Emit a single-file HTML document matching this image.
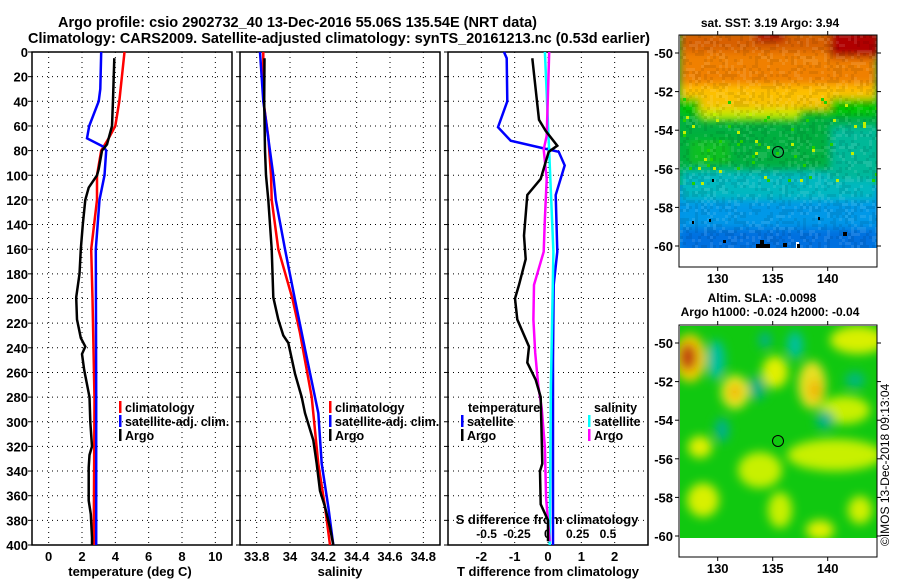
<!DOCTYPE html>
<html><head><meta charset="utf-8"><style>
body{margin:0;background:#fff}
svg text{font-family:"Liberation Sans",sans-serif;font-weight:bold;fill:#000}
</style></head><body>
<svg id="c" width="900" height="580" xmlns="http://www.w3.org/2000/svg">
<defs>
<filter id="b1" x="-20%" y="-20%" width="140%" height="140%"><feGaussianBlur stdDeviation="4"/></filter>
<filter id="b2" x="-50%" y="-50%" width="200%" height="200%"><feGaussianBlur stdDeviation="5"/></filter>
<clipPath id="m1c"><rect x="680" y="35" width="197" height="213"/></clipPath>
<clipPath id="m2c"><rect x="680" y="326" width="197" height="212"/></clipPath>
</defs>
<text x="58" y="27" font-size="15" textLength="479" lengthAdjust="spacingAndGlyphs">Argo profile: csio 2902732_40 13-Dec-2016 55.06S 135.54E (NRT data)</text>
<text x="28" y="43" font-size="15" textLength="622" lengthAdjust="spacingAndGlyphs">Climatology: CARS2009. Satellite-adjusted climatology: synTS_20161213.nc (0.53d earlier)</text>

<!-- SST map -->
<g clip-path="url(#m1c)">
<rect x="680" y="35" width="197" height="213" fill="#0090e8"/>
<rect x="680" y="35" width="197" height="150" fill="#00b040"/>
<g filter="url(#b1)">
<rect x="680" y="170" width="197" height="40" fill="#00b8c0"/>
<rect x="680" y="200" width="197" height="30" fill="#0098e8"/>
<rect x="680" y="228" width="197" height="25" fill="#0070e0"/>
<rect x="830" y="125" width="50" height="55" fill="#00b898"/>
<rect x="680" y="90" width="197" height="25" fill="#00c800"/>
<rect x="700" y="95" width="100" height="25" fill="#c8e800"/>
<rect x="680" y="80" width="197" height="18" fill="#ffc000"/>
<rect x="700" y="95" width="130" height="14" fill="#f8c000"/>
<rect x="680" y="30" width="197" height="55" fill="#f08000"/>
<rect x="680" y="30" width="197" height="22" fill="#d86000"/>
<rect x="830" y="30" width="50" height="28" fill="#b00000"/>
<rect x="755" y="30" width="30" height="12" fill="#b00000"/>
<rect x="690" y="140" width="40" height="25" fill="#10c020"/>
</g>
<g id="noise"></g>
<rect x="796" y="242" width="3" height="6" fill="#fff"/>
<g fill="#000"><rect x="756" y="244" width="14" height="4"/><rect x="760" y="240" width="4" height="4"/><rect x="783" y="243" width="4" height="4"/><rect x="797" y="244" width="3" height="4"/><rect x="843" y="232" width="4" height="4"/><rect x="692" y="221" width="2" height="3"/><rect x="709" y="219" width="2" height="3"/><rect x="818" y="217" width="2" height="3"/><rect x="712" y="179" width="2" height="3"/><rect x="723" y="240" width="3" height="3"/></g>
</g>
<circle cx="778" cy="152" r="5.5" fill="none" stroke="#000"/>
<text x="770" y="27" font-size="12" text-anchor="middle">sat. SST: 3.19 Argo: 3.94</text>

<!-- SLA map -->
<g clip-path="url(#m2c)">
<rect x="680" y="326" width="197" height="212" fill="#10c810"/>
<g filter="url(#b2)">
<ellipse cx="690" cy="358" rx="16" ry="24" fill="#f0d000"/>
<ellipse cx="688" cy="357" rx="9" ry="14" fill="#c04010"/>
<ellipse cx="716" cy="360" rx="9" ry="20" fill="#00c0a0"/>
<ellipse cx="757" cy="388" rx="9" ry="12" fill="#00b080"/>
<ellipse cx="795" cy="345" rx="8" ry="14" fill="#00c0a0"/>
<ellipse cx="765" cy="340" rx="6" ry="8" fill="#00b090"/>
<ellipse cx="735" cy="392" rx="14" ry="17" fill="#e8e820"/>
<ellipse cx="735" cy="392" rx="6" ry="8" fill="#f0b000"/>
<ellipse cx="775" cy="372" rx="13" ry="16" fill="#e0f000"/>
<ellipse cx="812" cy="385" rx="14" ry="24" fill="#e8e020"/>
<ellipse cx="815" cy="390" rx="6" ry="10" fill="#f0b000"/>
<ellipse cx="858" cy="340" rx="28" ry="14" fill="#d8f000"/>
<ellipse cx="845" cy="410" rx="25" ry="14" fill="#c8f000"/>
<ellipse cx="700" cy="447" rx="12" ry="11" fill="#e0f000"/>
<ellipse cx="835" cy="455" rx="48" ry="16" fill="#c8f000"/>
<ellipse cx="760" cy="470" rx="22" ry="18" fill="#c8f000"/>
<ellipse cx="703" cy="500" rx="16" ry="17" fill="#d8f000"/>
<ellipse cx="780" cy="510" rx="12" ry="18" fill="#c8f000"/>
<ellipse cx="820" cy="530" rx="14" ry="10" fill="#e0f000"/>
<ellipse cx="860" cy="510" rx="12" ry="14" fill="#d0f000"/>
<ellipse cx="722" cy="430" rx="7" ry="12" fill="#00b090"/>
<ellipse cx="825" cy="420" rx="9" ry="9" fill="#00b090"/>
<ellipse cx="855" cy="380" rx="10" ry="8" fill="#00b880"/>
</g>
</g>
<circle cx="778" cy="441" r="5.5" fill="none" stroke="#000"/>
<text x="762" y="302" font-size="12" text-anchor="middle">Altim. SLA: -0.0098</text>
<text x="770" y="316" font-size="12" text-anchor="middle">Argo h1000: -0.024 h2000: -0.04</text>
<text transform="translate(889,546) rotate(-90)" font-size="12" style="font-weight:normal">©IMOS 13-Dec-2018 09:13:04</text>
<g id="axes"></g>
</svg>
<script>
// ---- data (depth in m) ----
const tClimD=[0,40,60,70,80,100,120,160,200,282,400];
const tClimV=[4.55,4.24,4.0,3.6,3.15,2.9,2.9,2.55,2.63,2.75,2.7];
const tSatD=[0,30,40,60,70,77,80,100,120,160,280,400];
const tSatV=[3.15,3.1,3.0,2.43,2.3,3.3,3.45,3.35,3.05,2.83,2.85,2.85];
const tArgoD=[5,39,60,75,80,95,100,110,120,140,160,180,199,217,232,239,245,258,280,300,320,327,337,364,375,394,400];
const tArgoV=[3.94,3.86,3.8,3.5,3.2,3.0,2.9,2.4,2.2,2.05,1.93,1.85,1.65,1.7,1.93,2.2,2.0,2.13,2.45,2.5,2.6,2.45,2.4,2.4,2.53,2.6,2.6];
const sClimD=[0,39,69,100,120,160,179,201,228,280,334,369,400];
const sClimV=[33.84,33.84,33.87,33.886,33.89,33.93,33.97,34.016,34.06,34.13,34.17,34.21,34.24];
const sSatD=[0,40,100,120,160,201,241,280,293,334,369,400];
const sSatV=[33.82,33.84,33.9,33.915,33.97,34.03,34.09,34.15,34.17,34.19,34.23,34.26];
const sArgoD=[5,40,80,100,120,160,199,217,230,236,261,280,293,315,334,356,369,386,400];
const sArgoV=[33.847,33.845,33.85,33.856,33.87,33.89,33.9,33.93,33.96,33.99,34.03,34.07,34.09,34.14,34.16,34.18,34.21,34.24,34.26];
const dtSatD=[0,5,40,61,72,79,81,92,116,162,189,250,400];
const dtSatV=[-1.32,-1.24,-1.22,-1.5,-1.12,0,0.32,0.5,0.23,0.28,0.17,0.15,0.15];
const dtArgoD=[5,55,64,76,81,103,116,149,168,189,200,217,239,252,266,280,334,340,367,380,397];
const dtArgoV=[-0.47,-0.27,-0.07,0.28,0.02,-0.22,-0.62,-0.72,-0.67,-0.87,-0.99,-0.92,-0.57,-0.62,-0.37,-0.22,-0.17,-0.24,-0.22,0,0];
const dsSatD=[0,81,162,271,400];
const dsSatV=[-0.02,0.016,0.05,0.03,0.02];
const dsArgoD=[0,68,79,103,135,162,189,217,244,271,289,321,362,397];
const dsArgoV=[0.016,-0.005,-0.03,-0.005,-0.02,-0.03,-0.11,-0.115,-0.1,-0.074,-0.046,-0.02,-0.01,0.02];
const depthTicks=[0,20,40,60,80,100,120,140,160,180,200,220,240,260,280,300,320,340,360,380,400];
const tTicks=[0,2,4,6,8,10];
const sTicks=[33.8,34,34.2,34.4,34.6,34.8];
const dtTicks=[-2,-1,0,1,2];
const dsTicks=[-0.5,-0.25,0,0.25,0.5];
const latTicks=[-50,-52,-54,-56,-58,-60];
const lonTicks=[130,135,140];

const NS="http://www.w3.org/2000/svg";
const G=document.getElementById('axes');
function el(t,a,p){const e=document.createElementNS(NS,t);for(const k in a)e.setAttribute(k,a[k]);(p||G).appendChild(e);return e;}

// pixel texture for SST map
(function(){
  const N=document.getElementById('noise');let s=12345;
  const r=()=>{s=(s*1103515245+12345)&0x7fffffff;return s/0x7fffffff;};
  for(let y=35;y<248;y+=3)for(let x=680;x<877;x+=3){
    const v=r();
    if(v<0.25)el('rect',{x:x,y:y,width:3,height:3,fill:'#000','fill-opacity':0.08},N);
    else if(v<0.45)el('rect',{x:x,y:y,width:3,height:3,fill:'#fff','fill-opacity':0.1},N);
  }
  for(let i=0;i<60;i++){const x=680+Math.floor(r()*66)*3,y=95+Math.floor(r()*30)*3;
    el('rect',{x:x,y:y,width:3,height:3,fill:r()<0.5?'#c0f000':'#20d000'},N);}
})();

const Y0=52,Y1=545;
const yD=d=>Y0+d/400*(Y1-Y0);
const P=[{x0:32,x1:232,lo:-1,hi:11},{x0:240,x1:440,lo:33.7,hi:34.9},{x0:448,x1:648,lo:-3,hi:3}];
const sx=(p,v)=>p.x0+(v-p.lo)/(p.hi-p.lo)*(p.x1-p.x0);
const dsx=v=>547.3+v*121.3;

function grid(pi,ticks,lblFmt,name){
  const p=P[pi];
  const g=el('g',{});
  
  
  depthTicks.forEach(d=>{
    el('line',{x1:p.x0,x2:p.x1,y1:yD(d),y2:yD(d),stroke:'#000','stroke-dasharray':'1 4','stroke-width':1},g);
    el('line',{x1:p.x0-4,x2:p.x0,y1:yD(d),y2:yD(d),stroke:'#000'},g);
  });
  ticks.forEach(v=>{
    const x=sx(p,v);
    el('line',{x1:x,x2:x,y1:Y0,y2:Y1,stroke:'#000','stroke-dasharray':'1 4','stroke-width':1},g);
    const t=el('text',{x:x,y:561,'font-size':13,'text-anchor':'middle'},g);t.textContent=lblFmt(v);
  });
  el('rect',{x:p.x0,y:Y0,width:p.x1-p.x0,height:Y1-Y0,fill:'none',stroke:'#000','stroke-width':1.5},g);
}
grid(0,tTicks,v=>String(v),'temperature');
grid(1,sTicks,v=>String(v),'salinity');
grid(2,dtTicks,v=>String(v),'t-difference');
depthTicks.forEach(d=>{const t=el('text',{x:28,y:yD(d)+5,'font-size':13,'text-anchor':'end'});


t.textContent=d;});
dsTicks.forEach(v=>{const t=el('text',{x:dsx(v),y:538,'font-size':12,'text-anchor':'middle'});


t.textContent=String(v);});
[['temperature (deg C)',130,'temperature-axis-title'],['salinity',340,'salinity-axis-title'],['T difference from climatology',548,'t-diff-axis-title']].forEach(a=>{
 const t=el('text',{x:a[1],y:576,'font-size':13,'text-anchor':'middle'});
 
 
 t.textContent=a[0];});
{const t=el('text',{x:547,y:524,'font-size':13,'text-anchor':'middle'});


t.textContent='S difference from climatology';}

function line(D,V,xf,col,name){
  const pts=D.map((d,i)=>xf(V[i]).toFixed(1)+','+yD(d).toFixed(1)).join(' ');
  const e=el('polyline',{points:pts,fill:'none',stroke:col,'stroke-width':2.5});
  
  
}
line(tClimD,tClimV,v=>sx(P[0],v),'#f00','temp-climatology-line');
line(tSatD,tSatV,v=>sx(P[0],v),'#00f','temp-satellite-line');
line(tArgoD,tArgoV,v=>sx(P[0],v),'#000','temp-argo-line');
line(sClimD,sClimV,v=>sx(P[1],v),'#f00','sal-climatology-line');
line(sSatD,sSatV,v=>sx(P[1],v),'#00f','sal-satellite-line');
line(sArgoD,sArgoV,v=>sx(P[1],v),'#000','sal-argo-line');
line(dtSatD,dtSatV,v=>sx(P[2],v),'#00f','tdiff-satellite-line');
line(dsSatD,dsSatV,dsx,'#0ff','sdiff-satellite-line');
line(dsArgoD,dsArgoV,dsx,'#f0f','sdiff-argo-line');
line(dtArgoD,dtArgoV,v=>sx(P[2],v),'#000','tdiff-argo-line');

function legend(x,y,col,txt,name){
  if(col){const m=el('rect',{x:x-6,y:y-6,width:2.5,height:12,fill:col});
  
  }
  const t=el('text',{x:x,y:y+5,'font-size':12.5});
  
  
  t.textContent=txt;
}
legend(125,407,'#f00','climatology','legend-climatology');
legend(125,421,'#00f','satellite-adj. clim.','legend-satellite-adj');
legend(125,435,'#000','Argo','legend-argo');
legend(335,407,'#f00','climatology','legend2-climatology');
legend(335,421,'#00f','satellite-adj. clim.','legend2-satellite-adj');
legend(335,435,'#000','Argo','legend2-argo');
legend(468,407,null,'temperature','legend-temperature-heading');
legend(467,421,'#00f','satellite','legend-t-satellite');
legend(467,435,'#000','Argo','legend-t-argo');
legend(594,407,null,'salinity','legend-salinity-heading');
legend(594,421,'#0ff','satellite','legend-s-satellite');
legend(594,435,'#f0f','Argo','legend-s-argo');

// map axes
function mapAxes(top,bot,lat50,lat60,name){
  const g=el('g',{});
  
  
  el('rect',{x:679,y:top,width:198,height:bot-top,fill:'none',stroke:'#000'},g);
  latTicks.forEach(l=>{const y=lat50+(l+50)/-10*(lat60-lat50);
    el('line',{x1:675,x2:679,y1:y,y2:y,stroke:'#000'},g);
    el('line',{x1:877,x2:881,y1:y,y2:y,stroke:'#000'},g);
    const t=el('text',{x:673,y:y+5,'font-size':13,'text-anchor':'end'},g);t.textContent=l;});
  lonTicks.forEach(l=>{const x=717.7+(l-130)*11;
    el('line',{x1:x,x2:x,y1:top-4,y2:top,stroke:'#000'},g);
    el('line',{x1:x,x2:x,y1:bot,y2:bot+4,stroke:'#000'},g);
    const t=el('text',{x:x,y:bot+16,'font-size':13,'text-anchor':'middle'},g);t.textContent=l;});
}
mapAxes(35,267,53,246,'sst-map-axes');
mapAxes(325,557,343,536,'sla-map-axes');
</script>
</body></html>
